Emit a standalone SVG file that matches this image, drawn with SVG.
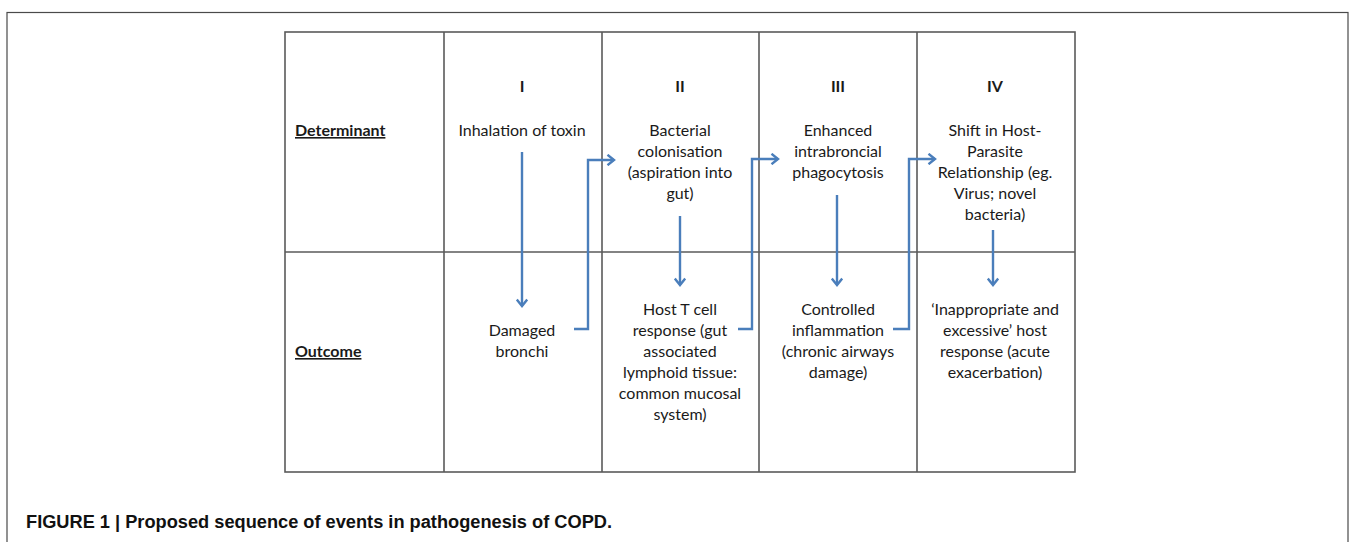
<svg xmlns="http://www.w3.org/2000/svg" width="1355" height="542" viewBox="0 0 1355 542">
<defs>
<style>
.frame{fill:none;stroke:#4a4a4a;stroke-width:1.2}
.grid{fill:none;stroke:#5a5a5a;stroke-width:1.6}
.t{font-family:Lato,"Open Sans","Liberation Sans",sans-serif;font-size:16px;fill:#1a1a1a;text-anchor:middle}
.rl{font-family:Lato,"Open Sans","Liberation Sans",sans-serif;font-size:16px;font-weight:bold;fill:#1a1a1a;text-decoration:underline}
.num{font-family:Lato,"Open Sans","Liberation Sans",sans-serif;font-size:16px;font-weight:bold;fill:#1a1a1a;text-anchor:middle}
.cap{font-family:"Liberation Sans",Arial,sans-serif;font-size:18px;font-weight:bold;fill:#111}
.arr{fill:none;stroke:#4a7ebb;stroke-width:2.4;marker-end:url(#ah)}
</style>
<marker id="ah" markerWidth="12" markerHeight="12" refX="8" refY="6" orient="auto" markerUnits="userSpaceOnUse">
<path d="M1.5,0.8 L8,6 L1.5,11.2" fill="none" stroke="#4a7ebb" stroke-width="2.4"/>
</marker>
</defs>
<rect id="outer-frame" class="frame" x="7" y="12.5" width="1341" height="540"/>
<g id="table">
<rect class="grid" x="285" y="32" width="790" height="440"/>
<line class="grid" x1="285" y1="252" x2="1075" y2="252"/>
<line class="grid" x1="444" y1="32" x2="444" y2="472"/>
<line class="grid" x1="602" y1="32" x2="602" y2="472"/>
<line class="grid" x1="759" y1="32" x2="759" y2="472"/>
<line class="grid" x1="917" y1="32" x2="917" y2="472"/>
</g>
<g id="row-labels">
<text class="rl" x="295" y="136">Determinant</text>
<text class="rl" x="295" y="357">Outcome</text>
</g>
<g id="stage-I">
<text class="num" x="522" y="92">I</text>
<text class="t" x="522" y="136">Inhalation of toxin</text>
<text class="t" x="522" y="336">Damaged</text>
<text class="t" x="522" y="357">bronchi</text>
</g>
<g id="stage-II">
<text class="num" x="680" y="92">II</text>
<text class="t" x="680" y="136">Bacterial</text>
<text class="t" x="680" y="157">colonisation</text>
<text class="t" x="680" y="178">(aspiration into</text>
<text class="t" x="680" y="199">gut)</text>
<text class="t" x="680" y="315">Host T cell</text>
<text class="t" x="680" y="336">response (gut</text>
<text class="t" x="680" y="357">associated</text>
<text class="t" x="680" y="378">lymphoid tissue:</text>
<text class="t" x="680" y="399">common mucosal</text>
<text class="t" x="680" y="420">system)</text>
</g>
<g id="stage-III">
<text class="num" x="838" y="92">III</text>
<text class="t" x="838" y="136">Enhanced</text>
<text class="t" x="838" y="157">intrabroncial</text>
<text class="t" x="838" y="178">phagocytosis</text>
<text class="t" x="838" y="315">Controlled</text>
<text class="t" x="838" y="336">inflammation</text>
<text class="t" x="838" y="357">(chronic airways</text>
<text class="t" x="838" y="378">damage)</text>
</g>
<g id="stage-IV">
<text class="num" x="995" y="92">IV</text>
<text class="t" x="995" y="136">Shift in Host-</text>
<text class="t" x="995" y="157">Parasite</text>
<text class="t" x="995" y="178">Relationship (eg.</text>
<text class="t" x="995" y="199">Virus; novel</text>
<text class="t" x="995" y="220">bacteria)</text>
<text class="t" x="995" y="315">‘Inappropriate and</text>
<text class="t" x="995" y="336">excessive’ host</text>
<text class="t" x="995" y="357">response (acute</text>
<text class="t" x="995" y="378">exacerbation)</text>
</g>
<g id="connectors">
<path class="arr" d="M522,152 L522,306"/>
<path class="arr" d="M680,216 L680,285"/>
<path class="arr" d="M837,195 L837,285"/>
<path class="arr" d="M993,230 L993,285"/>
<path class="arr" d="M574,329 L588,329 L588,160 L614,160"/>
<path class="arr" d="M738,329 L752,329 L752,159 L778,159"/>
<path class="arr" d="M893,329 L909,329 L909,159 L935,159"/>
</g>
<text id="caption" class="cap" x="26" y="528" textLength="586" lengthAdjust="spacingAndGlyphs">FIGURE 1 | Proposed sequence of events in pathogenesis of COPD.</text>
</svg>
